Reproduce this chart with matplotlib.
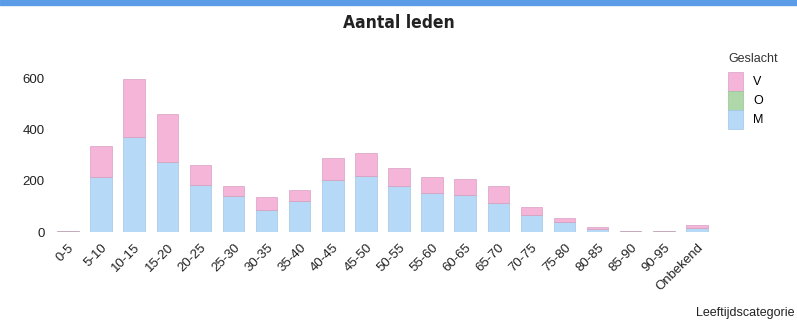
import numpy as np
import matplotlib.pyplot as plt
from matplotlib.patches import Rectangle, Patch

plt.rcParams['font.family'] = ['Liberation Sans', 'DejaVu Sans']

# Ledenaantallen per leeftijdscategorie, gestapeld per geslacht
categorieen = ['0-5', '5-10', '10-15', '15-20', '20-25', '25-30', '30-35',
               '35-40', '40-45', '45-50', '50-55', '55-60', '60-65', '65-70',
               '70-75', '75-80', '80-85', '85-90', '90-95', 'Onbekend']
mannen = [3, 214, 371, 273, 183, 141, 86, 120, 204, 221,
          180, 152, 145, 112, 67, 38, 12, 2, 2, 15]
onbekend_geslacht = [0, 0, 0, 0, 0, 0, 0, 0, 0, 0,
                     0, 0, 0, 0, 0, 0, 0, 0, 0, 2]
vrouwen = [2, 124, 229, 190, 80, 40, 50, 45, 87, 90,
           72, 62, 64, 68, 31, 16, 8, 1, 3, 10]

kleur_m = '#b7d9f8'
kleur_o = '#aed7aa'
kleur_v = '#f5b5d8'

fig = plt.figure(figsize=(7.97, 3.22), dpi=100)
ax = fig.add_axes([0.0646, 0.2795, 0.8306, 0.5155])

x = np.arange(len(categorieen))
m = np.array(mannen)
o = np.array(onbekend_geslacht)
v = np.array(vrouwen)
ax.bar(x, m, width=0.65, color=kleur_m, edgecolor='#a3c4e4', linewidth=0.5)
ax.bar(x, o, width=0.65, bottom=m, color=kleur_o, edgecolor='#98c496', linewidth=0.5)
ax.bar(x, v, width=0.65, bottom=m + o, color=kleur_v, edgecolor='#d9a0c4', linewidth=0.5)

ax.set_xlim(-0.5, len(categorieen) - 0.5)
ax.set_ylim(0, 650)
ax.set_yticks([0, 200, 400, 600])
ax.set_xticks(x)
ax.set_xticklabels(categorieen, rotation=45, ha='right', va='top',
                   rotation_mode='anchor')
ax.tick_params(axis='both', length=0, labelsize=9.5, colors='#222222')
ax.tick_params(axis='y', pad=5)
ax.tick_params(axis='x', pad=7)
for s in ax.spines.values():
    s.set_visible(False)

# blauwe balk bovenaan
fig.patches.append(Rectangle((0, 0.984), 1, 0.016, transform=fig.transFigure,
                             color='#5c9ce6', zorder=0))

fig.text(0.5, 0.93, 'Aantal leden', ha='center', va='center', fontsize=12.5,
         fontweight='bold', fontstretch='condensed',
         family=['DejaVu Sans'], color='#222222')

handles = [Patch(facecolor=kleur_v, edgecolor='#d9a0c4', linewidth=0.5),
           Patch(facecolor=kleur_o, edgecolor='#98c496', linewidth=0.5),
           Patch(facecolor=kleur_m, edgecolor='#a3c4e4', linewidth=0.5)]
leg = fig.legend(handles, ['V', 'O', 'M'], title='Geslacht', loc='upper left',
                 bbox_to_anchor=(0.906, 0.855), frameon=False, fontsize=9,
                 title_fontsize=9, handlelength=1.2, handleheight=1.95,
                 labelspacing=0, handletextpad=0.8, borderpad=0,
                 alignment='left')
leg._legend_box.sep = 5
leg.get_title().set_color('#333333')

fig.text(0.997, 0.028, 'Leeftijdscategorie', ha='right', va='center',
         fontsize=9, color='#222222')

fig.savefig('out.png', dpi=100)
